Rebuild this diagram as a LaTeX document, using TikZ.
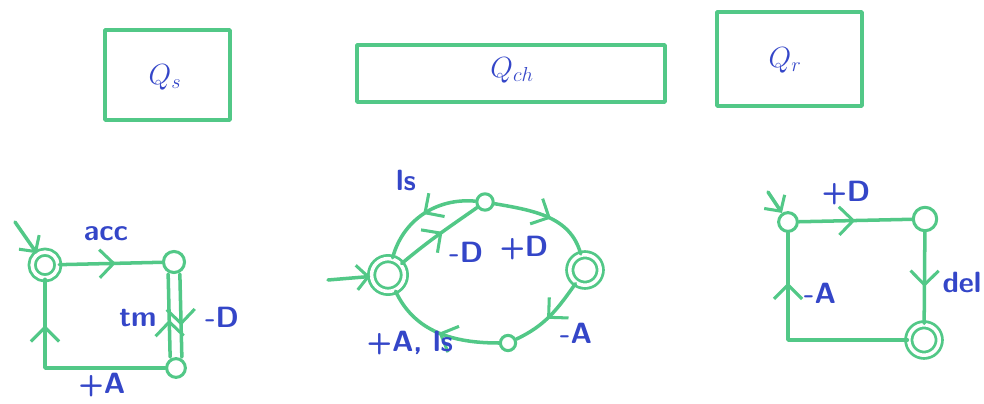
\documentclass[tikz,border=0pt]{standalone}
\usetikzlibrary{arrows.meta,decorations.markings}
\definecolor{pen}{RGB}{82,200,135}
\definecolor{ink}{RGB}{52,70,200}
\tikzset{
  x=0.03cm, y=-0.03cm,
  every path/.style={line cap=round, line join=round},
  stroke/.style={draw=pen, line width=3pt},
  box/.style={stroke},
  st/.style={circle, stroke, line width=2.6pt, inner sep=0pt, minimum size=#1},
  st/.default=16,
  accst/.style={circle, draw=pen, line width=2.4pt, double=white, double distance=3pt, inner sep=0pt, minimum size=#1},
  accst/.default=22,
  tip/.style={-{Straight Barb[length=7pt,width=15pt,line width=2.6pt,scale=1.4]}},
  mid/.style={stroke, postaction={decorate}, decoration={markings,
     mark=at position #1 with {\arrow[pen]{Straight Barb[length=8pt,width=16pt,line width=2.6pt,scale=1.5]}}}},
  mid/.default=0.5,
  lab/.style={text=ink, font=\sffamily\bfseries\fontsize{25}{28}\selectfont, inner sep=1pt},
  qlab/.style={text=ink, font=\fontsize{24}{26}\selectfont},
}
\begin{document}
\begin{tikzpicture}
\useasboundingbox (0,0) rectangle (984,404);
% ---- top boxes ----
\draw[box] (105,30) rectangle (230,120);
\node[qlab] (qs) at (165,77) {$Q_s$};
\draw[box] (357,45) rectangle (665,102);
\node[qlab] (qch) at (512,70) {$Q_{ch}$};
\draw[box] (717,12) rectangle (862,106);
\node[qlab] (qr) at (785,60) {$Q_r$};

% ---- left automaton ----
\node[accst=22] (s0) at (45,265) {};
\node[st=18] (s1) at (174,262) {};
\node[st=16] (s2) at (176,368) {};
\coordinate (i0) at (15,222);
\draw[stroke,tip] (i0) -- (s0);
\draw[mid=0.55] (s0) -- (s1);
\draw[mid=0.62] ([xshift=5pt]s1.south) -- ([xshift=5pt]s2.north);
\draw[mid=0.45] ([xshift=-5pt]s2.north) -- ([xshift=-5pt]s1.south);
\draw[mid=0.78] (s2.west) -| (s0.south);
\node[lab] (lacc) at (106,234) {acc};
\node[lab] (ltm) at (138,318) {tm};
\node[lab] (lmd) at (222,317) {-D};
\node[lab] (lpa) at (102,385) {+A};

% ---- middle automaton ----
\node[accst=28] (c0) at (388,275) {};
\node[st=14] (c1) at (485,202) {};
\node[accst=26] (c2) at (585,270) {};
\node[st=13] (c3) at (508,343) {};
\coordinate (i1) at (328,280);
\draw[stroke,tip] (i1) -- (c0);
\draw[mid=0.5] (c1) to[out=175,in=75] (c0);
\draw[mid=0.55] (c0) to[out=40,in=215] (c1);
\draw[mid=0.55] (c1) to[out=-10,in=105] (c2);
\draw[mid=0.55] (c2) to[out=235,in=25] (c3);
\draw[mid=0.5] (c3) to[out=180,in=295] (c0);
\node[lab] (lls) at (406,180) {ls};
\node[lab] (lmd2) at (466,252) {-D};
\node[lab] (lpd) at (524,248) {+D};
\node[lab] (lma) at (576,333) {-A};
\node[lab] (lpals) at (410,343) {+A, ls};

% ---- right automaton ----
\node[st=16] (r0) at (788,222) {};
\node[st=20] (r1) at (925,219) {};
\node[accst=26] (r2) at (924,340) {};
\coordinate (i2) at (768,192);
\draw[stroke,tip] (i2) -- (r0);
\draw[mid=0.5] (r0) -- (r1);
\draw[mid=0.6] (r1) -- (r2);
\draw[mid=0.78] (r2.west) -| (r0.south);
\node[lab] (lpd2) at (846,193) {+D};
\node[lab] (ldel) at (962,282) {del};
\node[lab] (lma2) at (820,293) {-A};
\end{tikzpicture}
\end{document}
